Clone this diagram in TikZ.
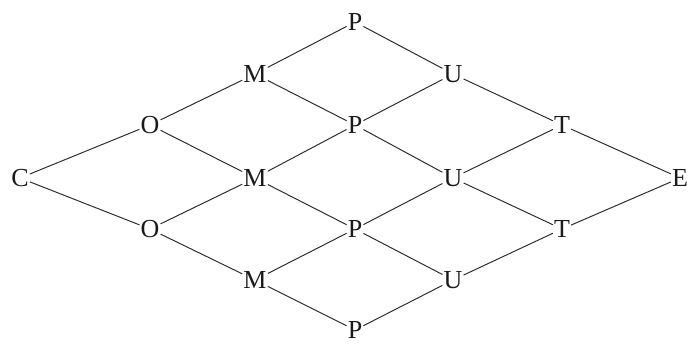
\documentclass[tikz,border=0pt]{standalone}
\usepackage{fontspec}
\setmainfont{Liberation Serif}
\usepackage{xcolor}
\usepackage{tikz}
\definecolor{LineGray}{HTML}{2E2E2E}
\definecolor{TextDark}{HTML}{1A1A1A}

\begin{document}
\begin{tikzpicture}[x=1pt,y=-1pt,
    letter/.style={inner sep=1pt, text=TextDark, font=\fontsize{26}{26}\selectfont},
    link/.style={draw=LineGray, line width=1pt}]
  \useasboundingbox (0,0) rectangle (688,345);
  % letters of the word, row by row
  \node[letter] (c)  at (20,178)  {C};
  \node[letter] (o1) at (150,125) {O};
  \node[letter] (o2) at (150,229) {O};
  \node[letter] (m1) at (255,74)  {M};
  \node[letter] (m2) at (255,178) {M};
  \node[letter] (m3) at (255,280) {M};
  \node[letter] (p1) at (355,22)  {P};
  \node[letter] (p2) at (355,125) {P};
  \node[letter] (p3) at (355,229) {P};
  \node[letter] (p4) at (355,330) {P};
  \node[letter] (u1) at (453,74)  {U};
  \node[letter] (u2) at (453,178) {U};
  \node[letter] (u3) at (453,280) {U};
  \node[letter] (t1) at (562,125) {T};
  \node[letter] (t2) at (562,229) {T};
  \node[letter] (e)  at (680,178) {E};
  % lattice of paths
  \foreach \a/\b in {c/o1,c/o2,o1/m1,o1/m2,o2/m2,o2/m3,
                     m1/p1,m1/p2,m2/p2,m2/p3,m3/p3,m3/p4,
                     p1/u1,p2/u1,p2/u2,p3/u2,p3/u3,p4/u3,
                     u1/t1,u2/t1,u2/t2,u3/t2,t1/e,t2/e}
    \draw[link] (\a) -- (\b);
\end{tikzpicture}
\end{document}
